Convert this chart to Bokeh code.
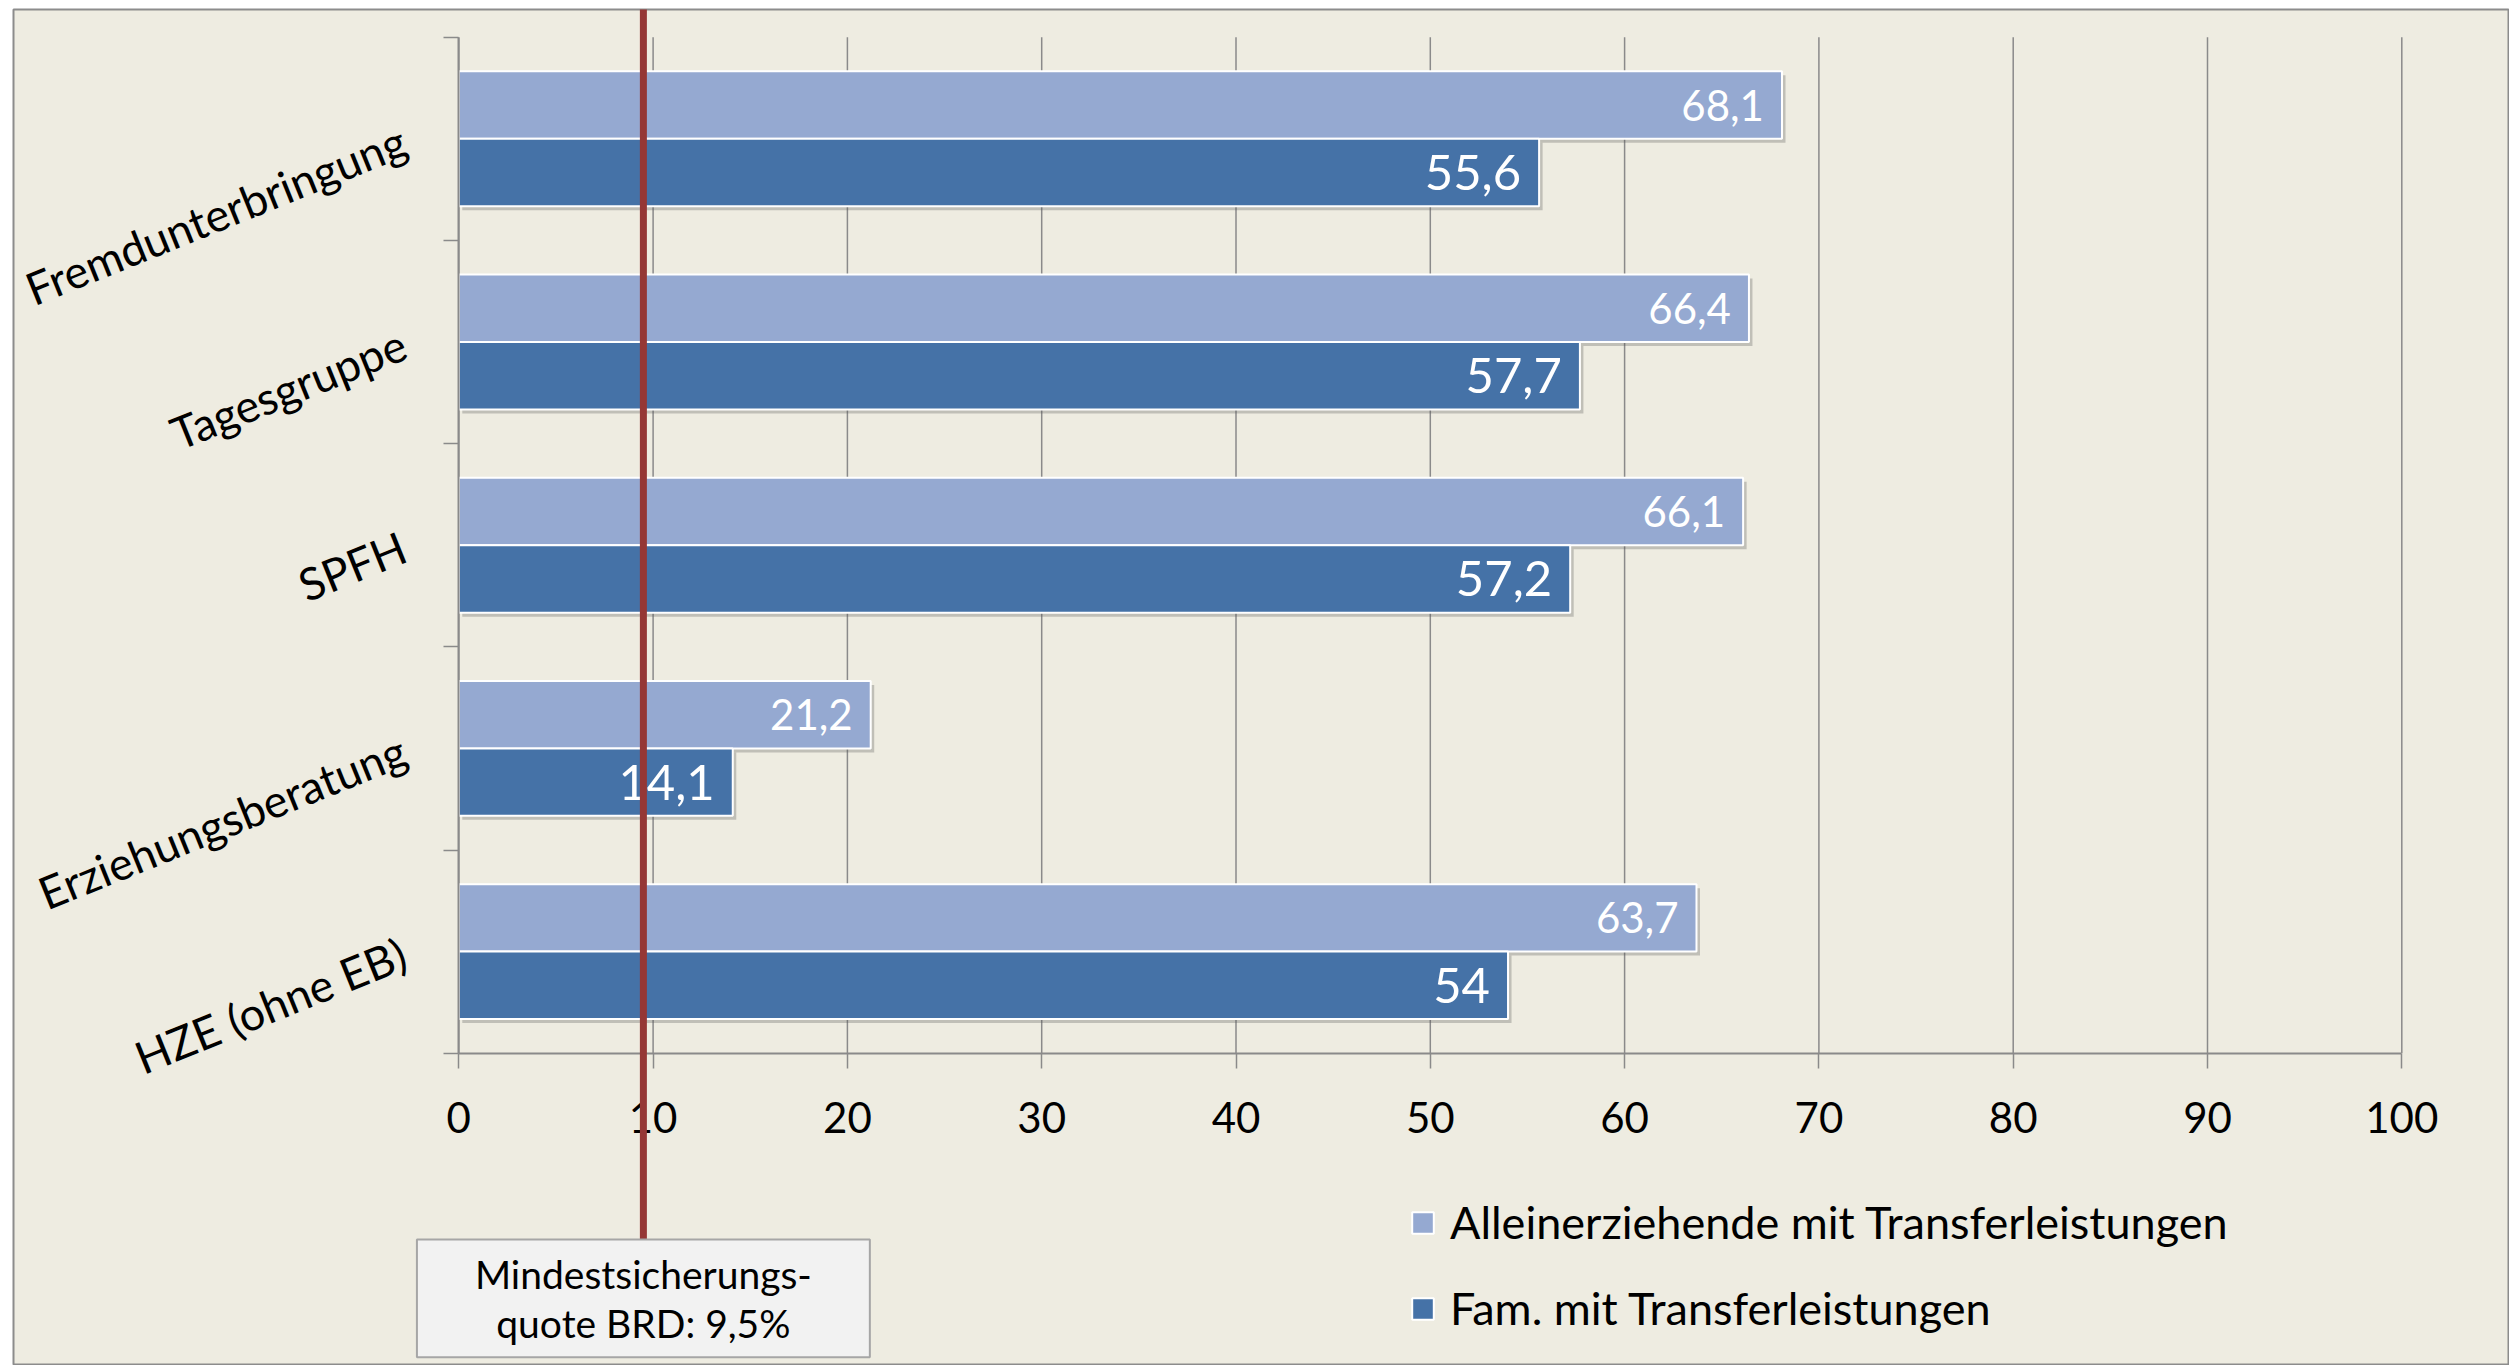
from bokeh.plotting import figure
from bokeh.models import (ColumnDataSource, LinearAxis, FixedTicker, Range1d, LabelSet,
                          Label, Legend, LegendItem)
from bokeh.embed import file_html
from bokeh.resources import INLINE
from bokeh.core.properties import value

# ---------------- data ----------------
categories = ["Fremdunterbringung", "Tagesgruppe", "SPFH", "Erziehungsberatung", "HZE (ohne EB)"]
alleinerziehende = [68.1, 66.4, 66.1, 21.2, 63.7]
familien = [55.6, 57.7, 57.2, 14.1, 54.0]
series_names = ["Alleinerziehende mit Transferleistungen", "Fam. mit Transferleistungen"]
x_ticks = [0, 10, 20, 30, 40, 50, 60, 70, 80, 90, 100]
quote = 9.5
quote_text = "Mindestsicherungs-\nquote BRD: 9,5%"

# ---------------- styling / layout ----------------
LIGHT = "#95A9D1"
DARK = "#4572A7"
BG = "#EEECE1"
GRID = "#8A8A8A"
RED = "#953735"
FONT = "Lato"

W, H = 2509, 1365
BORDER_L, BORDER_T, BORDER_R, BORDER_B = 13, 9, 1, 0
FRAME_W, FRAME_H = W - BORDER_L - BORDER_R, H - BORDER_T - BORDER_B
PX_PER_X = 19.43          # pixels per percentage point
PX_PER_CAT = 203.2        # pixels per category slot
ORIGIN_X_PX = 458.3 - BORDER_L  # frame-relative pixel of x = 0
AXIS_Y_PX = 1052.7 - BORDER_T   # frame-relative pixel of the category axis bottom

x_start = -ORIGIN_X_PX / PX_PER_X
x_end = x_start + FRAME_W / PX_PER_X
y_end = AXIS_Y_PX / PX_PER_CAT
y_start = y_end - FRAME_H / PX_PER_CAT

n = len(categories)
BAR_H = 0.332
centers = [n - i - 0.5 for i in range(n)]
boundaries = list(range(n + 1))


def fmt(v):
    return f"{v:g}".replace(".", ",")


src_light = ColumnDataSource(dict(
    y=[c + BAR_H / 2 for c in centers], right=alleinerziehende,
    label=[fmt(v) for v in alleinerziehende]))
src_dark = ColumnDataSource(dict(
    y=[c - BAR_H / 2 for c in centers], right=familien,
    label=[fmt(v) for v in familien]))

SH_DX, SH_DY = 3.5 / PX_PER_X, 4.0 / PX_PER_CAT

p = figure(width=W, height=H, output_backend="svg", toolbar_location=None,
           x_range=Range1d(x_start, x_end), y_range=Range1d(y_start, y_end),
           x_axis_type=None, y_axis_type=None, title=None,
           min_border_left=BORDER_L, min_border_top=BORDER_T,
           min_border_right=BORDER_R, min_border_bottom=BORDER_B)
p.background_fill_color = BG
p.border_fill_color = "white"
p.outline_line_color = "#8C8C8C"
p.outline_line_width = 2
p.xgrid.visible = False
p.ygrid.visible = False

# vertical grid lines (only across the category area)
p.segment(x0=x_ticks, y0=[0] * len(x_ticks), x1=x_ticks, y1=[n] * len(x_ticks),
          line_color=GRID, line_width=1.5)

# bar shadows
for src in (src_light, src_dark):
    p.hbar(y=[y - SH_DY for y in src.data["y"]], left=SH_DX,
           right=[r + SH_DX for r in src.data["right"]], height=BAR_H,
           fill_color="#555555", fill_alpha=0.30, line_color=None)

r_light = p.hbar(y="y", right="right", left=0, height=BAR_H, source=src_light,
                 fill_color=LIGHT, line_color="white", line_width=2)
r_dark = p.hbar(y="y", right="right", left=0, height=BAR_H, source=src_dark,
                fill_color=DARK, line_color="white", line_width=2)

# axes
xaxis = LinearAxis(fixed_location=0, bounds=(0, 100),
                   ticker=FixedTicker(ticks=x_ticks, minor_ticks=[]))
xaxis.axis_line_color = GRID
xaxis.axis_line_width = 2
xaxis.major_tick_line_color = GRID
xaxis.major_tick_line_width = 1.5
xaxis.major_tick_out = 15
xaxis.major_tick_in = 0
xaxis.minor_tick_line_color = None
xaxis.major_label_standoff = 34
xaxis.major_label_text_font = FONT
xaxis.major_label_text_font_size = "42px"
xaxis.major_label_text_color = "black"
p.add_layout(xaxis, "below")

yaxis = LinearAxis(fixed_location=0, bounds=(0, n),
                   ticker=FixedTicker(ticks=centers, minor_ticks=boundaries))
yaxis.major_label_overrides = {c: cat for c, cat in zip(centers, categories)}
yaxis.axis_line_color = GRID
yaxis.axis_line_width = 2
yaxis.major_tick_out = 0
yaxis.major_tick_in = 0
yaxis.minor_tick_line_color = GRID
yaxis.minor_tick_line_width = 1.5
yaxis.minor_tick_out = 15
yaxis.minor_tick_in = 0
yaxis.major_label_orientation = 0.384
yaxis.major_label_standoff = 40
yaxis.major_label_text_font = FONT
yaxis.major_label_text_font_size = "45px"
yaxis.major_label_text_color = "black"
p.add_layout(yaxis, "left")

# data labels
p.add_layout(LabelSet(x="right", y="y", text="label", source=src_light, x_offset=-18,
                      text_align="right", text_baseline="middle", text_color="white",
                      text_font=value(FONT), text_font_size="42px"))
p.add_layout(LabelSet(x="right", y="y", text="label", source=src_dark, x_offset=-18,
                      text_align="right", text_baseline="middle", text_color="white",
                      text_font=value(FONT), text_font_size="49px"))

# legend
legend = Legend(items=[LegendItem(label=series_names[0], renderers=[r_light]),
                       LegendItem(label=series_names[1], renderers=[r_dark])],
                location=(1396, 30), orientation="vertical",
                glyph_width=27, glyph_height=27, label_height=27, label_standoff=14,
                spacing=32, padding=0, margin=0, border_line_color=None,
                background_fill_alpha=0, label_text_font=FONT,
                label_text_font_size="45px", label_text_color="black")
p.add_layout(legend)

# reference line (drawn on top of everything) and its annotation box
BOX_Y = -1.207
p.segment(x0=[quote], y0=[BOX_Y], x1=[quote], y1=[y_end], line_color=RED,
          line_width=7, level="overlay")
p.add_layout(Label(x=quote, y=BOX_Y, text=quote_text, text_align="center",
                   text_baseline="middle", text_font=FONT, text_font_size="39px",
                   text_color="black", text_line_height=1.08,
                   background_fill_color="#F2F2F2", border_line_color="#A6A6A6",
                   border_line_width=2, padding=(58, 11), level="overlay"))

open("out.html", "w").write(file_html(p, INLINE))
